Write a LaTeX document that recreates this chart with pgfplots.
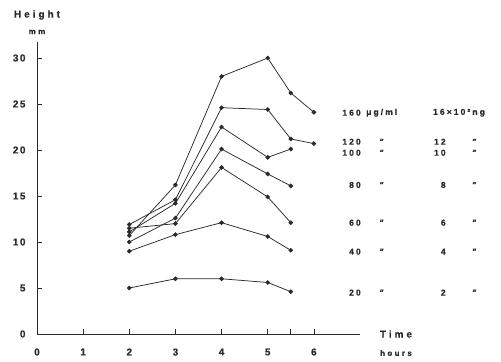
\documentclass[border=0pt]{standalone}
\usepackage{fontspec}
\setmainfont{Liberation Sans}
\newfontfamily\lbl[LetterSpace=30, FakeBold=0.6]{Liberation Sans}
\newfontfamily\leg[LetterSpace=25, FakeBold=0.6]{Liberation Sans}
\newfontfamily\tck[LetterSpace=15, FakeBold=0.6]{Liberation Sans}
\usepackage{pgfplots}
\pgfplotsset{compat=1.18}
\definecolor{ink}{HTML}{2A2A2A}
\pgfplotsset{myline/.style={ink, solid, line width=0.75pt, mark=*, mark size=1.9bp, mark options={fill=ink, draw=ink, solid}}}
\newcommand{\legrow}[3]{%
  \node[anchor=east] at (axis cs:7.02,#3) {#1};
  \node at (axis cs:7.46,#3) {\itshape "};
  \node[anchor=east] at (axis cs:8.86,#3) {#2};
  \node at (axis cs:9.47,#3) {\itshape "};
}
\begin{document}
\begin{tikzpicture}
\begin{axis}[
  at={(0,0)}, anchor=south west,
  scale only axis, width=323bp, height=292bp,
  xmin=0, xmax=7, ymin=0, ymax=31.74,
  axis x line=bottom, axis y line=left,
  axis line style={-, ink, line width=0.75pt},
  xtick={0,1,2,3,4,5,6}, extra x ticks={5.5}, extra x tick labels={},
  ytick={0,5,10,15,20,25,30},
  tick align=inside, major tick length=5bp,
  tick style={ink, line width=0.7pt},
  /pgf/number format/assume math mode=true,
  xticklabel style={font=\tck\bfseries\fontsize{10}{12}\selectfont, text=ink, yshift=-11bp},
  yticklabel style={font=\tck\bfseries\fontsize{10}{12}\selectfont, text=ink, xshift=-8bp},
  clip=false,
]
% 160
\addplot[myline] coordinates {(2,10.7) (3,16.2) (4,28.0) (5,30.0) (5.5,26.2) (6,24.1)};
% 120
\addplot[myline] coordinates {(2,11.9) (3,14.6) (4,24.6) (5,24.4) (5.5,21.2) (6,20.7)};
% 100
\addplot[myline] coordinates {(2,11.1) (3,14.2) (4,22.5) (5,19.2) (5.5,20.1)};
% 80
\addplot[myline] coordinates {(2,10.0) (3,12.6) (4,20.1) (5,17.4) (5.5,16.1)};
% 60
\addplot[myline] coordinates {(2,11.5) (3,12.0) (4,18.1) (5,14.9) (5.5,12.1)};
% 40
\addplot[myline] coordinates {(2,9.0) (3,10.8) (4,12.1) (5,10.6) (5.5,9.1)};
% 20
\addplot[myline] coordinates {(2,5.0) (3,6.0) (4,6.0) (5,5.6) (5.5,4.6)};

% axis titles
\node[font=\lbl\bfseries\fontsize{10}{12}\selectfont, text=ink] at (rel axis cs:0,1) [yshift=27bp] {Height};
\node[font=\lbl\bfseries\fontsize{8}{10}\selectfont, text=ink] at (rel axis cs:0,1) [yshift=10bp] {mm};
\node[font=\lbl\bfseries\fontsize{10}{12}\selectfont, text=ink] at (axis cs:7.78,0) {Time};
\node[font=\lbl\bfseries\fontsize{8}{10}\selectfont, text=ink] at (axis cs:7.78,0) [yshift=-19bp] {hours};

% legend-like labels
\begin{scope}[every node/.style={font=\leg\bfseries\fontsize{8.5}{10}\selectfont, text=ink, inner sep=0pt}]
\node[anchor=east] at (axis cs:7.02,24.05) {160};
\node[anchor=west] at (axis cs:7.13,24.05) {μg/ml};
\node[anchor=west] at (axis cs:8.58,24.05) {16×10²ng};
\legrow{120}{12}{20.9}
\legrow{100}{10}{19.7}
\legrow{80}{8}{16.2}
\legrow{60}{6}{12.1}
\legrow{40}{4}{8.95}
\legrow{20}{2}{4.5}
\end{scope}
\end{axis}
\pgfresetboundingbox
\path[use as bounding box] (-37bp,-28bp) rectangle (464bp,334bp);
\end{tikzpicture}
\end{document}
